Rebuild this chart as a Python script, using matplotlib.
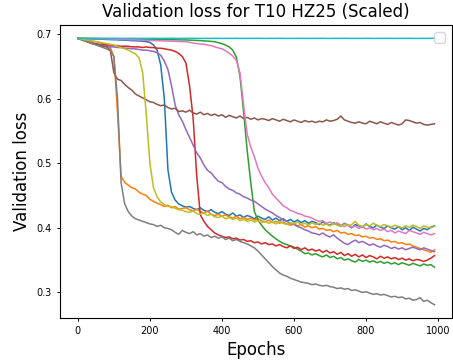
import matplotlib
matplotlib.use("Agg")
import matplotlib.pyplot as plt
import numpy as np

# epocas registradas cada 10
epocas = list(range(0, 1000, 10))

# perdida de validacion de cada corrida (colores por defecto tab10)
perdida_azul = [
    .6932, .6930, .6928, .6926, .6924, .6922, .6920, .6918, .6915, .6913,
    .6911, .6909, .6906, .6904, .6901, .6898, .6895, .6892, .6888, .6882,
    .687, .683, .675, .652, .60, .49, .455, .443, .437, .434,
    .432, .433, .430, .428, .431, .427, .425, .428, .424, .422,
    .425, .421, .419, .423, .418, .420, .416, .419, .417, .414,
    .418, .415, .413, .417, .412, .415, .411, .414, .410, .413,
    .409, .412, .408, .411, .407, .410, .408, .405, .409, .406,
    .404, .408, .405, .403, .407, .404, .400, .405, .403, .401,
    .406, .402, .400, .404, .401, .399, .403, .400, .398, .402,
    .397, .400, .396, .401, .398, .395, .399, .397, .401, .403]

perdida_naranja = [
    .6932, .692, .691, .690, .689, .688, .687, .685, .683, .679,
    .665, .58, .48, .470, .466, .462, .460, .455, .452, .450,
    .444, .441, .438, .436, .433, .435, .431, .433, .429, .430,
    .431, .428, .426, .429, .425, .423, .426, .421, .419, .421,
    .418, .420, .417, .415, .418, .414, .416, .413, .415, .412,
    .414, .411, .409, .412, .408, .410, .407, .409, .406, .404,
    .406, .403, .405, .401, .403, .400, .402, .398, .399, .396,
    .397, .394, .396, .392, .393, .390, .391, .388, .389, .386,
    .387, .384, .385, .382, .383, .380, .381, .378, .379, .376,
    .377, .374, .375, .372, .370, .368, .366, .364, .362, .366]

perdida_verde = [
    .6932, .6931, .6931, .6930, .6930, .6929, .6929, .6928, .6928, .6927,
    .6926, .6926, .6925, .6924, .6923, .6922, .6921, .6920, .6919, .6918,
    .6917, .6916, .6915, .6914, .6913, .6912, .6911, .6910, .6909, .6908,
    .6907, .6905, .6903, .6900, .6897, .6893, .689, .6885, .688, .6865,
    .685, .683, .680, .675, .664, .635, .58, .52, .47, .425,
    .412, .404, .397, .392, .387, .383, .379, .376, .374, .372,
    .370, .367, .364, .360, .361, .358, .360, .357, .355, .358,
    .354, .356, .352, .354, .350, .352, .349, .347, .351, .348,
    .350, .347, .349, .346, .348, .345, .347, .344, .346, .343,
    .346, .344, .342, .345, .343, .341, .344, .342, .343, .339]

perdida_roja = [
    .6932, .692, .690, .688, .686, .685, .684, .684, .683, .683,
    .682, .682, .681, .681, .681, .680, .680, .680, .679, .680,
    .679, .679, .678, .678, .677, .676, .675, .673, .670, .665,
    .655, .62, .57, .48, .42, .410, .402, .397, .392, .389,
    .387, .385, .386, .383, .384, .381, .382, .379, .380, .377,
    .378, .375, .377, .374, .375, .372, .374, .371, .369, .372,
    .368, .370, .366, .369, .365, .367, .364, .366, .362, .365,
    .361, .363, .359, .362, .357, .360, .356, .359, .355, .358,
    .354, .357, .355, .352, .356, .353, .355, .352, .354, .351,
    .353, .350, .352, .349, .351, .350, .348, .350, .353, .357]

perdida_morada = [
    .6932, .692, .690, .688, .686, .684, .683, .682, .681, .680,
    .680, .679, .679, .678, .678, .677, .677, .676, .675, .675,
    .674, .673, .671, .667, .658, .645, .62, .59, .575, .565,
    .552, .540, .528, .516, .508, .497, .489, .485, .478, .472,
    .470, .464, .460, .458, .454, .452, .448, .446, .443, .441,
    .437, .433, .429, .426, .423, .419, .416, .412, .410, .407,
    .405, .402, .400, .397, .395, .392, .391, .389, .392, .388,
    .386, .389, .384, .380, .376, .374, .378, .381, .377, .379,
    .376, .373, .375, .372, .370, .373, .371, .368, .370, .367,
    .369, .366, .368, .370, .368, .366, .369, .367, .365, .363]

perdida_cafe = [
    .6932, .691, .689, .687, .685, .684, .682, .681, .680, .675,
    .640, .630, .628, .622, .617, .613, .607, .604, .601, .598,
    .595, .594, .591, .589, .590, .586, .584, .585, .580, .581,
    .579, .582, .578, .576, .579, .575, .577, .574, .576, .573,
    .575, .571, .574, .572, .570, .573, .569, .571, .568, .570,
    .567, .569, .568, .566, .569, .567, .565, .568, .566, .564,
    .567, .565, .563, .566, .564, .565, .563, .565, .564, .567,
    .565, .566, .568, .573, .567, .565, .563, .562, .564, .562,
    .561, .565, .563, .561, .564, .562, .560, .563, .561, .559,
    .561, .567, .566, .564, .562, .563, .560, .559, .560, .561]

perdida_rosa = [
    .6932, .6931, .6930, .6929, .6928, .6927, .6926, .6925, .6924, .6922,
    .6920, .6918, .6916, .6914, .6912, .6910, .6908, .6906, .6904, .6902,
    .6900, .6898, .6896, .6894, .6892, .6890, .6888, .6886, .6884, .6882,
    .688, .687, .686, .685, .6845, .684, .683, .682, .680, .6785,
    .677, .674, .670, .666, .659, .640, .59, .545, .525, .510,
    .492, .480, .470, .462, .452, .446, .440, .434, .431, .427,
    .425, .422, .421, .418, .417, .415, .412, .410, .411, .407,
    .409, .405, .408, .404, .402, .405, .401, .403, .399, .402,
    .398, .400, .397, .399, .396, .398, .394, .396, .392, .395,
    .393, .391, .396, .394, .392, .390, .393, .391, .389, .391]

perdida_gris = [
    .6932, .691, .689, .687, .685, .683, .681, .679, .677, .674,
    .665, .60, .47, .437, .425, .418, .414, .412, .410, .408,
    .406, .405, .402, .404, .400, .399, .397, .393, .390, .396,
    .393, .391, .394, .389, .391, .387, .389, .385, .387, .384,
    .386, .382, .384, .380, .382, .379, .377, .375, .372, .369,
    .364, .358, .352, .346, .340, .335, .330, .327, .325, .322,
    .320, .318, .316, .315, .314, .312, .313, .311, .310, .311,
    .309, .308, .306, .307, .305, .306, .303, .304, .302, .300,
    .301, .299, .297, .298, .296, .297, .295, .293, .294, .292,
    .293, .290, .291, .288, .289, .292, .286, .288, .284, .281]

perdida_oliva = [
    .6932, .692, .691, .690, .689, .688, .687, .686, .685, .684,
    .683, .681, .679, .677, .675, .672, .669, .663, .640, .575,
    .50, .462, .448, .440, .436, .433, .433, .430, .428, .427,
    .425, .424, .426, .422, .421, .423, .419, .421, .417, .416,
    .418, .414, .416, .413, .415, .411, .413, .410, .412, .409,
    .411, .408, .410, .407, .409, .406, .410, .407, .405, .408,
    .406, .409, .405, .407, .404, .408, .405, .407, .404, .406,
    .403, .407, .404, .402, .406, .403, .405, .410, .404, .402,
    .405, .403, .407, .404, .402, .405, .403, .401, .404, .402,
    .400, .403, .401, .404, .402, .399, .403, .401, .400, .402]

perdida_cian = [
    .6932, .6933, .6932, .6931, .6932, .6933, .6932, .6931, .6932, .6932,
    .6933, .6932, .6931, .6932, .6932, .6933, .6932, .6931, .6932, .6932,
    .6932, .6933, .6932, .6931, .6932, .6932, .6933, .6932, .6931, .6932,
    .6932, .6932, .6933, .6932, .6931, .6932, .6932, .6932, .6933, .6932,
    .6931, .6932, .6932, .6932, .6933, .6932, .6931, .6932, .6932, .6932,
    .6933, .6932, .6931, .6932, .6932, .6932, .6933, .6932, .6931, .6932,
    .6932, .6932, .6933, .6932, .6931, .6932, .6932, .6932, .6933, .6932,
    .6931, .6932, .6932, .6932, .6933, .6932, .6931, .6932, .6932, .6932,
    .6933, .6932, .6931, .6932, .6932, .6932, .6933, .6932, .6931, .6932,
    .6932, .6932, .6933, .6932, .6931, .6932, .6932, .6932, .6933, .6932]

corridas = [perdida_azul, perdida_naranja, perdida_verde, perdida_roja,
            perdida_morada, perdida_cafe, perdida_rosa, perdida_gris,
            perdida_oliva, perdida_cian]

fig = plt.figure(figsize=(4.53, 3.62), dpi=100)
ax = fig.add_axes([0.1325, 0.1215, 0.866, 0.8095])

for c in corridas:
    ax.plot(epocas, c, linewidth=1.1)

ax.set_title("Validation loss for T10 HZ25 (Scaled)", fontsize=12)
ax.set_xlabel("Epochs", fontsize=12, labelpad=3)
ax.set_ylabel("Validation loss", fontsize=12)
ax.tick_params(labelsize=7, length=2.5, width=0.7)
for s in ax.spines.values():
    s.set_linewidth(0.8)
ax.set_yticks([0.3, 0.4, 0.5, 0.6, 0.7])
ax.legend(loc="upper right")

fig.savefig("out.png", dpi=100)
